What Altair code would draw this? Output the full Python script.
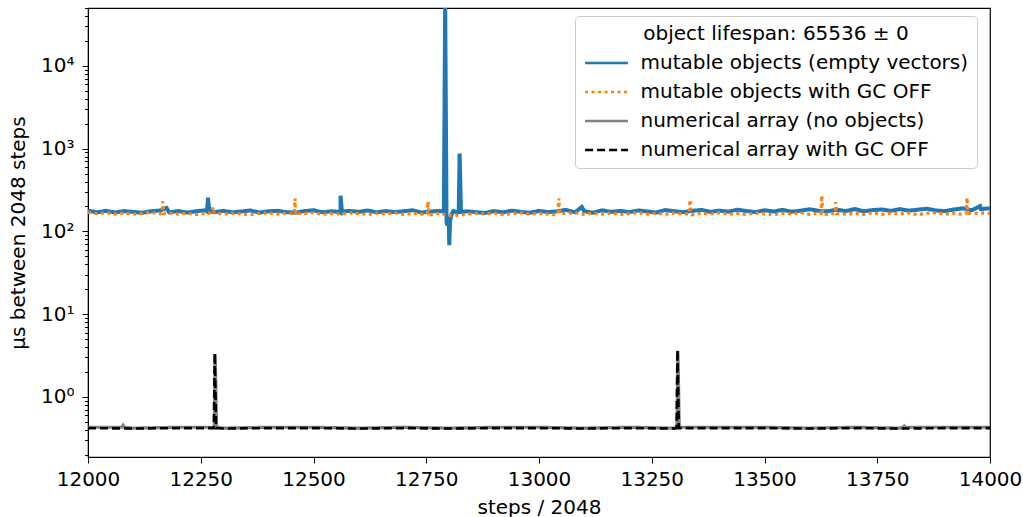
import altair as alt
import pandas as pd

SERIES = [
    "mutable objects (empty vectors)",
    "mutable objects with GC OFF",
    "numerical array (no objects)",
    "numerical array with GC OFF",
]
COLORS = ["#1f77b4", "#ff7f0e", "#808080", "#000000"]
DASHES = [[1, 0], [3, 3.5], [1, 0], [8, 4]]

# base grid every 20 steps, 12000..14000
grid_x = list(range(12000, 14001, 20))

blue_base = [178, 170, 177, 169, 176, 172, 168, 175, 179, 170,
             176, 169, 175, 180, 171, 177, 170, 174, 179, 169,
             175, 177, 171, 168, 176, 180, 170, 175, 169, 177,
             172, 179, 170, 176, 171, 175, 180, 169, 174, 177,
             140, 169, 175, 171, 167, 176, 170, 178, 172, 168,
             177, 171, 175, 182, 170, 176, 168, 180, 172, 177,
             171, 179, 174, 169, 181, 175, 171, 177, 182, 172,
             178, 173, 183, 176, 171, 180, 174, 182, 173, 178,
             185, 177, 175, 183, 176, 186, 175, 181, 184, 177,
             186, 178, 183, 188, 179, 176, 184, 190, 180, 186,
             190]
blue_extra_x = [12174, 12264, 12266, 12269, 12558, 12560, 12563,
                12789, 12792, 12795, 12797, 12799, 12801, 12803, 12806, 12810,
                12822, 12824, 12827, 13095, 13978]
blue_extra_y = [192, 174, 255, 176, 172, 270, 174,
                172, 60000, 130, 118, 150, 68, 135, 160, 176,
                173, 870, 172, 197, 202]

orange_base = [170, 164, 168, 162, 167, 161, 166, 169, 163, 167,
               162, 166, 160, 165, 168, 161, 166, 163, 159, 165,
               167, 162, 166, 160, 164, 168, 161, 165, 162, 167,
               164, 160, 166, 162, 168, 161, 165, 162, 159, 166,
               155, 157, 161, 166, 162, 167, 160, 164, 168, 161,
               166, 162, 159, 165, 168, 161, 166, 162, 167, 160,
               164, 168, 162, 166, 161, 167, 163, 159, 166, 162,
               168, 161, 165, 160, 167, 163, 159, 166, 162, 168,
               161, 166, 160, 167, 162, 165, 160, 168, 161, 166,
               162, 167, 159, 165, 168, 161, 166, 160, 164, 167,
               165]
orange_extra_x = [12164, 12166, 12168, 12275, 12277, 12280, 12457, 12459, 12461,
                  12752, 12754, 12756, 13042, 13044, 13046, 13333, 13335, 13337,
                  13625, 13627, 13629, 13656, 13658, 13660, 13947, 13949, 13951]
orange_extra_y = [166, 230, 165, 168, 195, 170, 164, 250, 165,
                  163, 230, 164, 164, 250, 165, 163, 240, 166,
                  164, 270, 163, 165, 225, 164, 165, 255, 166]

coarse_x = list(range(12000, 14001, 100))
gray_base = [0.43, 0.42, 0.43, 0.42, 0.43, 0.43, 0.42, 0.43, 0.42, 0.43, 0.43,
             0.42, 0.43, 0.42, 0.43, 0.43, 0.42, 0.43, 0.42, 0.43, 0.43]
gray_extra_x = [12075, 12078, 12081, 12280, 12282, 12285, 13306, 13308, 13311,
                13807, 13810, 13813]
gray_extra_y = [0.43, 0.455, 0.43, 0.43, 3.3, 0.43, 0.43, 3.6, 0.43,
                0.43, 0.445, 0.43]

black_base = [0.42, 0.415, 0.42, 0.415, 0.42, 0.42, 0.415, 0.42, 0.415, 0.42, 0.42,
              0.415, 0.42, 0.415, 0.42, 0.42, 0.415, 0.42, 0.415, 0.42, 0.42]
black_extra_x = [12279, 12281, 12284, 13305, 13307, 13310]
black_extra_y = [0.42, 3.4, 0.42, 0.42, 3.7, 0.42]


def build(name, bx, by, ex, ey):
    d = pd.DataFrame({"x": list(bx) + list(ex), "y": list(by) + list(ey)})
    d = d.sort_values("x", kind="stable").reset_index(drop=True)
    d["series"] = name
    return d


frames = [
    build(SERIES[0], grid_x, blue_base, blue_extra_x, blue_extra_y),
    build(SERIES[1], grid_x, orange_base, orange_extra_x, orange_extra_y),
    build(SERIES[2], coarse_x, gray_base, gray_extra_x, gray_extra_y),
    build(SERIES[3], coarse_x, black_base, black_extra_x, black_extra_y),
]
df = pd.concat(frames, ignore_index=True)
df["order"] = range(len(df))

x_ticks = list(range(12000, 14001, 250))
y_ticks = ([0.2, 0.3, 0.4, 0.5, 0.6, 0.7, 0.8, 0.9, 1,
            2, 3, 4, 5, 6, 7, 8, 9, 10,
            20, 30, 40, 50, 60, 70, 80, 90, 100,
            200, 300, 400, 500, 600, 700, 800, 900, 1000,
            2000, 3000, 4000, 5000, 6000, 7000, 8000, 9000, 10000,
            20000, 30000, 40000, 50000])

label_expr = ("datum.value == 1 ? '10\u2070' : datum.value == 10 ? '10\u00b9' : "
              "datum.value == 100 ? '10\u00b2' : datum.value == 1000 ? '10\u00b3' : "
              "datum.value == 10000 ? '10\u2074' : ''")
major_test = "indexof([1, 10, 100, 1000, 10000], datum.value) >= 0"

FS = 20

legend = alt.Legend(
    title="object lifespan: 65536 \u00b1 0",
    orient="none",
    legendX=487,
    legendY=8,
    symbolType="M-1.75,0H1.75",
    symbolSize=600,
    symbolOffset=9.5,
    symbolStrokeWidth=2.7,
    labelFontSize=FS,
    titleFontSize=FS,
    titleFontWeight="normal",
    titleAnchor="middle",
    titleColor="black",
    labelColor="black",
    titleLimit=600,
    titlePadding=5,
    labelOffset=20,
    labelLimit=600,
    rowPadding=5,
    padding=8,
    fillColor="white",
    strokeColor="#cccccc",
    cornerRadius=4,
)

x_enc = alt.X(
    "x:Q",
    scale=alt.Scale(domain=[12000, 14000], nice=False, zero=False),
    axis=alt.Axis(values=x_ticks, title="steps / 2048", format="d", labelFlush=False,
                  labelOverlap=False, tickSize=6, labelPadding=6, titleY=50,
                  titleBaseline="middle"),
)
y_enc = alt.Y(
    "y:Q",
    scale=alt.Scale(type="log", domain=[0.188, 50000], nice=False),
    axis=alt.Axis(values=y_ticks, labelExpr=label_expr, title="\u03bcs between 2048 steps",
                  labelOverlap=False,
                  tickSize={"condition": {"test": major_test, "value": 6}, "value": 3.5},
                  labelPadding=8, titleX=-70, titleY=224.5, titleBaseline="middle"),
)
color_enc = alt.Color("series:N", scale=alt.Scale(domain=SERIES, range=COLORS), legend=legend)
dash_enc = alt.StrokeDash("series:N", scale=alt.Scale(domain=SERIES, range=DASHES), legend=legend)

widths = [4.0, 3.2, 3.2, 2.6]
layers = []
for name, w in zip(SERIES, widths):
    layers.append(
        alt.Chart(df)
        .transform_filter(alt.datum.series == name)
        .mark_line(clip=True, strokeWidth=w, strokeCap="butt")
        .encode(x=x_enc, y=y_enc, color=color_enc, strokeDash=dash_enc,
                order=alt.Order("order:Q"))
    )

chart = (
    alt.layer(*layers)
    .properties(
        width=902,
        height=449,
        autosize=alt.AutoSizeParams(type="none"),
        padding={"left": 88, "top": 8, "right": 33, "bottom": 60},
    )
    .configure(font="DejaVu Sans")
    .configure_axis(
        labelFontSize=FS,
        titleFontSize=FS,
        titleFontWeight="normal",
        labelColor="black",
        titleColor="black",
        tickColor="black",
        domainColor="black",
        grid=False,
    )
    .configure_view(stroke="black", strokeWidth=1.2)
)

chart.save("out.html", embed_options={"renderer": "svg", "actions": False})
